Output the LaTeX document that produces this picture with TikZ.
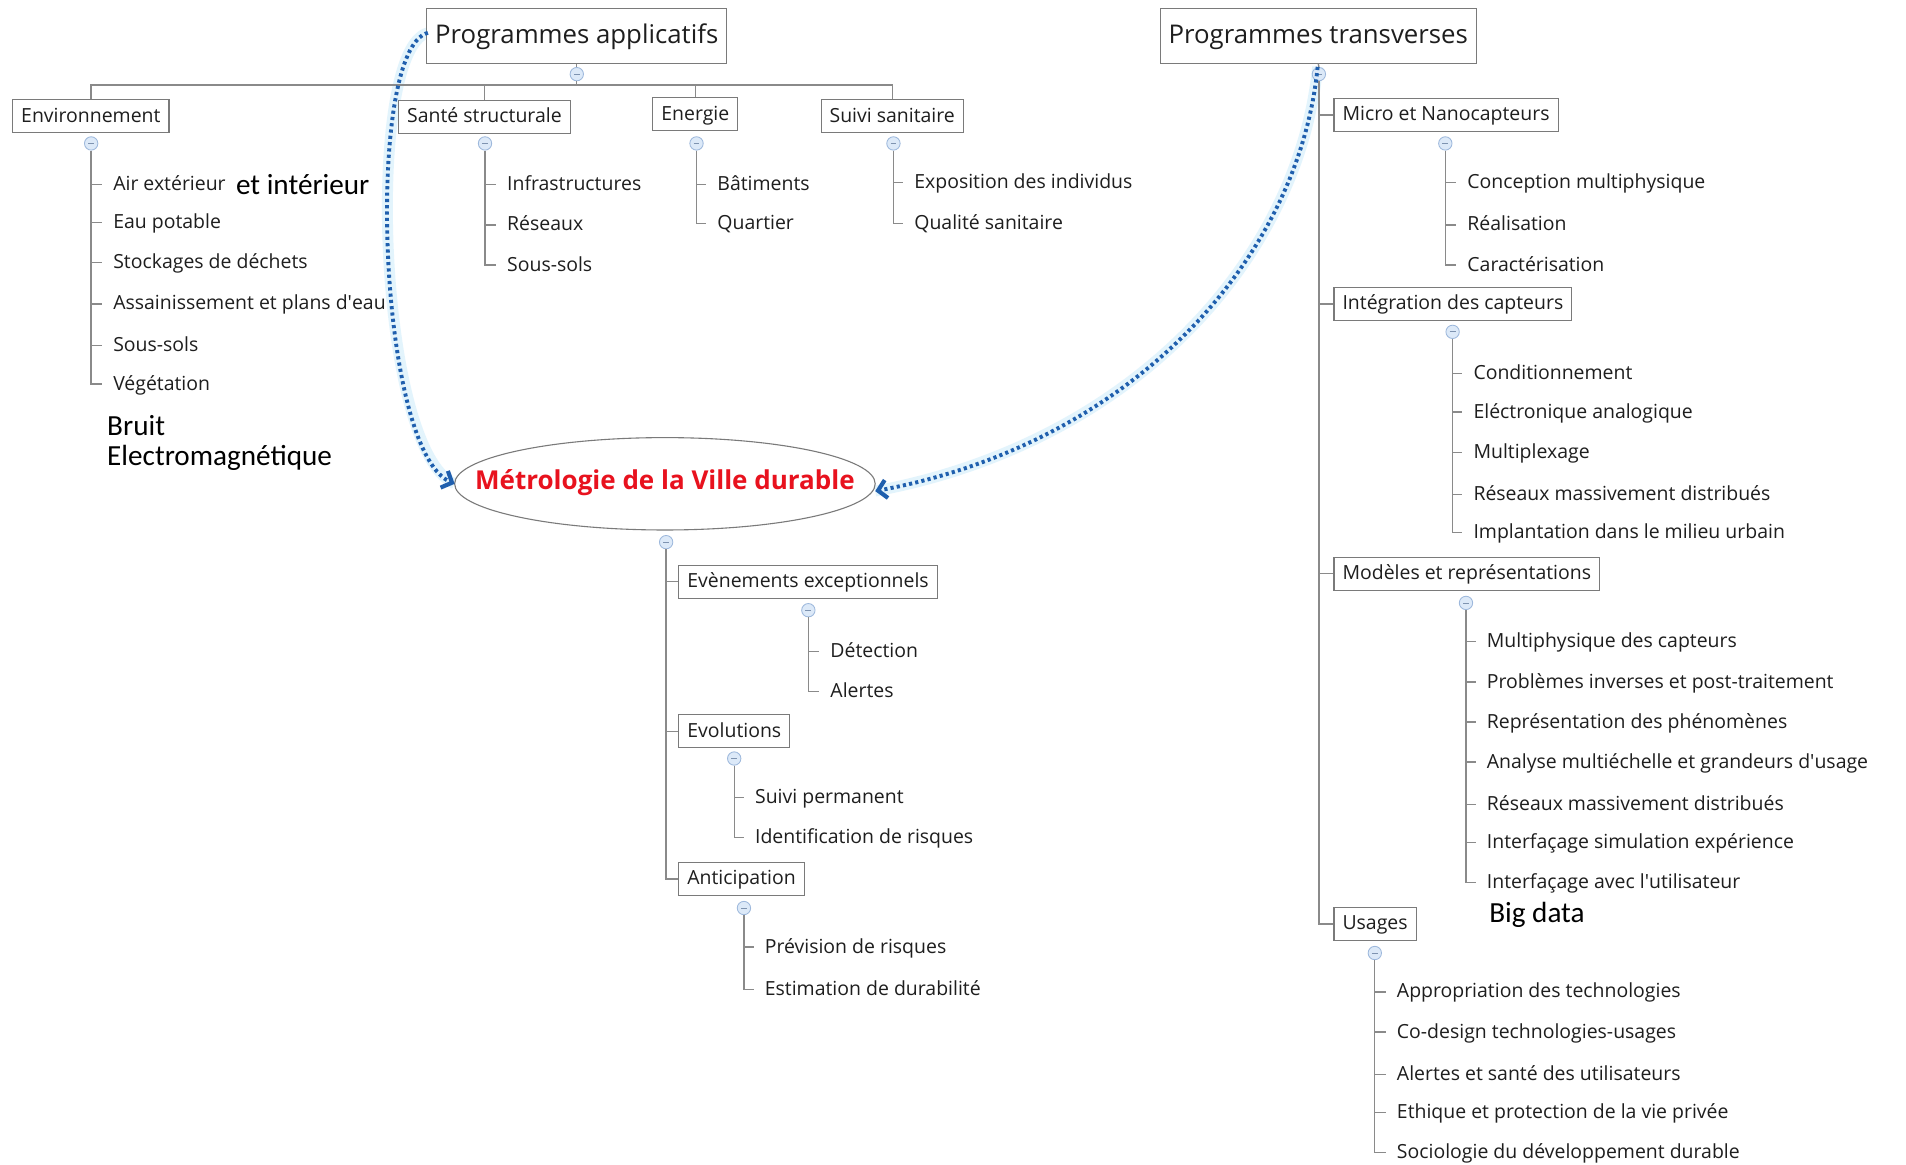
\documentclass[tikz,border=0pt]{standalone}
\usepackage{fontspec}
\setmainfont{Open Sans}
\newfontfamily\calfont{Carlito}
\usetikzlibrary{arrows.meta}
\definecolor{linegray}{HTML}{8A8A8A}
\definecolor{boxgray}{HTML}{7A7A7A}
\definecolor{txt}{HTML}{1E1E1E}
\definecolor{circfill}{HTML}{DCE9F8}
\definecolor{circline}{HTML}{9DB8DC}
\definecolor{arrblue}{HTML}{1F5FAE}
\definecolor{halo}{HTML}{D8F0FC}
\definecolor{titlered}{HTML}{E8121E}
\tikzset{
  ln/.style={draw=linegray, line width=1.1},
  box/.style={draw=boxgray, fill=white, line width=0.9, inner xsep=7, inner ysep=0,
    minimum height=27, text height=13, text depth=3, font=\fontsize{16}{18}\selectfont, text=txt},
  bigbox/.style={draw=boxgray, fill=white, line width=0.9, inner xsep=7, inner ysep=0,
    minimum height=45, text height=16.5, text depth=4.5, font=\fontsize{21.2}{25}\selectfont, text=txt},
  leaf/.style={inner xsep=9, inner ysep=0, anchor=west, text height=13, text depth=3,
    font=\fontsize{16}{18}\selectfont, text=txt},
  added/.style={inner sep=0, anchor=west, font=\calfont\fontsize{24}{27}\selectfont, text=black},
  circ/.style={circle, draw=circline, fill=circfill, line width=0.7, minimum size=11, inner sep=0,
    path picture={\draw[circline!80!black, line width=0.7] ([xshift=-2.4]path picture bounding box.center) -- ([xshift=2.4]path picture bounding box.center);}},
  dotarrow/.style={draw=arrblue, line width=3.2, dash pattern=on 2.6pt off 2.6pt,
    -{Straight Barb[length=7, width=15, line width=3.4]}},
  haloline/.style={draw=halo, line width=9, opacity=0.7},
}
\begin{document}
\begin{tikzpicture}[x=1pt, y=1pt]
\useasboundingbox[fill=white] (0,0) rectangle (1568,-958);

% ---------- dotted arrows: halo ----------
\coordinate (pastart) at (352,-27);
\coordinate (ptstart) at (1084,-55);
\coordinate (metw) at (374,-398);
\coordinate (mete) at (720,-404);
\draw[haloline] (pastart) .. controls (300,-40) and (310,-370) .. (metw);
\draw[haloline] (ptstart) .. controls (1068,-215) and (930,-365) .. (mete);

% ---------- Programmes applicatifs ----------
\node[bigbox] (pa) at (474.5,-29.5) {Programmes applicatifs};
\node[circ] (pac) at (474.5,-61) {};
\coordinate (pabar) at (474.5,-70);
\node[box, anchor=west] (env) at (10,-95.5) {Environnement};
\node[box] (sante) at (398.5,-96) {Santé structurale};
\node[box] (ener) at (572,-94) {Energie};
\node[box] (suivi) at (734,-95.5) {Suivi sanitaire};
\draw[ln] (pa.south) -- (pac.north);
\draw[ln] (pac.south) -- (pabar);
\draw[ln] (env.north -| 75,0) |- (pabar);
\draw[ln] (suivi.north) |- (pabar);
\draw[ln] (sante.north) -- (sante.north |- pabar);
\draw[ln] (ener.north) -- (ener.north |- pabar);

% Environnement
\node[circ] (envc) at (75,-118) {};
\node[leaf] (e1) at (84,-152) {Air extérieur};
\node[leaf] (e2) at (84,-183) {Eau potable};
\node[leaf] (e3) at (84,-216) {Stockages de déchets};
\node[leaf] (e4) at (84,-250) {Assainissement et plans d\textquotesingle eau};
\node[leaf] (e5) at (84,-284) {Sous-sols};
\node[leaf] (e6) at (84,-316) {Végétation};
\draw[ln] (envc.south) |- (e6.west);
\foreach \n in {e1,e2,e3,e4,e5} \draw[ln] (envc.south |- \n.west) -- (\n.west);
\node[added] (ea) at (194,-152) {et intérieur};
\node[added] (eb) at (88,-350) {Bruit};
\node[added] (ec) at (88,-377) {Electromagnétique};

% Santé structurale
\node[circ] (santec) at (399,-118) {};
\node[leaf] (s1) at (408,-152) {Infrastructures};
\node[leaf] (s2) at (408,-185) {Réseaux};
\node[leaf] (s3) at (408,-218) {Sous-sols};
\draw[ln] (santec.south) |- (s3.west);
\foreach \n in {s1,s2} \draw[ln] (santec.south |- \n.west) -- (\n.west);

% Energie
\node[circ] (enerc) at (573,-118) {};
\node[leaf] (n1) at (581,-152) {Bâtiments};
\node[leaf] (n2) at (581,-184) {Quartier};
\draw[ln] (enerc.south) |- (n2.west);
\draw[ln] (enerc.south |- n1.west) -- (n1.west);

% Suivi sanitaire
\node[circ] (suivic) at (735,-118) {};
\node[leaf] (h1) at (743,-150) {Exposition des individus};
\node[leaf] (h2) at (743,-184) {Qualité sanitaire};
\draw[ln] (suivic.south) |- (h2.west);
\draw[ln] (suivic.south |- h1.west) -- (h1.west);

% ---------- Programmes transverses ----------
\node[bigbox] (pt) at (1084.5,-29.5) {Programmes transverses};
\node[circ] (ptc) at (1085,-61) {};
\draw[ln] (pt.south) -- (ptc.north);
\node[box, anchor=west] (micro) at (1097,-94.5) {Micro et Nanocapteurs};
\node[box, anchor=west] (integ) at (1097,-250) {Intégration des capteurs};
\node[box, anchor=west] (mod) at (1097,-472) {Modèles et représentations};
\node[box, anchor=west] (usa) at (1097,-760) {Usages};
\draw[ln] (ptc.south) |- (usa.west);
\foreach \n in {micro,integ,mod} \draw[ln] (ptc.south |- \n.west) -- (\n.west);

% Micro
\node[circ] (microc) at (1189,-118) {};
\node[leaf] (m1) at (1198,-150) {Conception multiphysique};
\node[leaf] (m2) at (1198,-185) {Réalisation};
\node[leaf] (m3) at (1198,-218) {Caractérisation};
\draw[ln] (microc.south) |- (m3.west);
\foreach \n in {m1,m2} \draw[ln] (microc.south |- \n.west) -- (\n.west);

% Intégration
\node[circ] (integc) at (1195,-273) {};
\node[leaf] (i1) at (1203,-307) {Conditionnement};
\node[leaf] (i2) at (1203,-339) {Eléctronique analogique};
\node[leaf] (i3) at (1203,-372) {Multiplexage};
\node[leaf] (i4) at (1203,-407) {Réseaux massivement distribués};
\node[leaf] (i5) at (1203,-438) {Implantation dans le milieu urbain};
\draw[ln] (integc.south) |- (i5.west);
\foreach \n in {i1,i2,i3,i4} \draw[ln] (integc.south |- \n.west) -- (\n.west);

% Modèles
\node[circ] (modc) at (1206,-496) {};
\node[leaf] (r1) at (1214,-528) {Multiphysique des capteurs};
\node[leaf] (r2) at (1214,-561) {Problèmes inverses et post-traitement};
\node[leaf] (r3) at (1214,-594) {Représentation des phénomènes};
\node[leaf] (r4) at (1214,-627) {Analyse multiéchelle et grandeurs d\textquotesingle usage};
\node[leaf] (r5) at (1214,-662) {Réseaux massivement distribués};
\node[leaf] (r6) at (1214,-693) {Interfaçage simulation expérience};
\node[leaf] (r7) at (1214,-726) {Interfaçage avec l\textquotesingle utilisateur};
\draw[ln] (modc.south) |- (r7.west);
\foreach \n in {r1,r2,r3,r4,r5,r6} \draw[ln] (modc.south |- \n.west) -- (\n.west);
\node[added] (bd) at (1225,-753) {Big data};

% Usages
\node[circ] (usac) at (1131,-784) {};
\node[leaf] (u1) at (1140,-816) {Appropriation des technologies};
\node[leaf] (u2) at (1140,-849) {Co-design technologies-usages};
\node[leaf] (u3) at (1140,-884) {Alertes et santé des utilisateurs};
\node[leaf] (u4) at (1140,-915) {Ethique et protection de la vie privée};
\node[leaf] (u5) at (1140,-948) {Sociologie du développement durable};
\draw[ln] (usac.south) |- (u5.west);
\foreach \n in {u1,u2,u3,u4} \draw[ln] (usac.south |- \n.west) -- (\n.west);

% ---------- Centre ----------
\draw[boxgray, line width=0.9, fill=white] (547,-398) ellipse [x radius=173, y radius=38];
\node[inner sep=0, font=\bfseries\fontsize{21.4}{24}\selectfont, text=titlered] (met) at (547,-397) {Métrologie de la Ville durable};
\node[circ] (mc) at (548,-446) {};
\node[box, anchor=west] (eve) at (558,-478.5) {Evènements exceptionnels};
\node[box, anchor=west] (evo) at (558,-601.5) {Evolutions};
\node[box, anchor=west] (anti) at (558,-723) {Anticipation};
\draw[ln] (mc.south) |- (anti.west);
\foreach \n in {eve,evo} \draw[ln] (mc.south |- \n.west) -- (\n.west);

\node[circ] (evec) at (665,-502) {};
\node[leaf] (v1) at (674,-536) {Détection};
\node[leaf] (v2) at (674,-569) {Alertes};
\draw[ln] (evec.south) |- (v2.west);
\draw[ln] (evec.south |- v1.west) -- (v1.west);

\node[circ] (evoc) at (604,-624) {};
\node[leaf] (w1) at (612,-656) {Suivi permanent};
\node[leaf] (w2) at (612,-689) {Identification de risques};
\draw[ln] (evoc.south) |- (w2.west);
\draw[ln] (evoc.south |- w1.west) -- (w1.west);

\node[circ] (antic) at (612,-747) {};
\node[leaf] (a1) at (620,-779) {Prévision de risques};
\node[leaf] (a2) at (620,-814) {Estimation de durabilité};
\draw[ln] (antic.south) |- (a2.west);
\draw[ln] (antic.south |- a1.west) -- (a1.west);

% ---------- dotted arrows ----------
\draw[dotarrow] (pastart) .. controls (300,-40) and (310,-370) .. (metw);
\draw[dotarrow] (ptstart) .. controls (1068,-215) and (930,-365) .. (mete);
\end{tikzpicture}
\end{document}
